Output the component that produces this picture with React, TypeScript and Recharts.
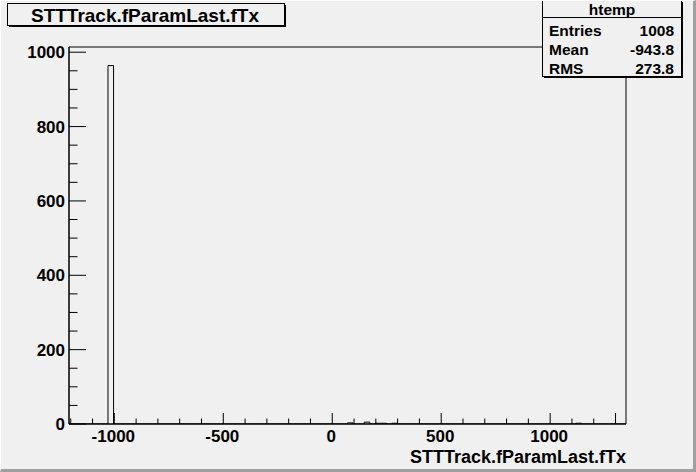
import React from "react";
import { ComposedChart, Line, XAxis, YAxis, ReferenceArea } from "recharts";

// Histogram definition (100 bins)
const xMin = -1208;
const xMax = 1348;
const nBins = 100;
const binCounts: number[] = [
  0, 0, 0, 0, 0, 0, 0, 964, 0, 0,
  0, 0, 0, 0, 0, 0, 0, 0, 0, 0,
  0, 0, 0, 0, 0, 0, 0, 0, 0, 0,
  0, 0, 0, 0, 0, 0, 0, 0, 0, 0,
  0, 0, 0, 0, 0, 0, 0, 0, 0, 0,
  3, 0, 0, 5, 0, 2, 2, 0, 2, 0,
  0, 0, 0, 0, 0, 0, 0, 0, 0, 0,
  0, 0, 0, 0, 0, 0, 0, 0, 0, 0,
  0, 0, 0, 0, 0, 0, 0, 0, 0, 0,
  0, 2, 0, 0, 0, 0, 0, 0, 0, 0,
];
const xTicks = [-1200, -1100, -1000, -900, -800, -700, -600, -500, -400, -300, -200, -100, 0, 100, 200, 300, 400, 500, 600, 700, 800, 900, 1000, 1100, 1200, 1300];
const xLabeled = [-1000, -500, 0, 500, 1000];
const xTallTicks = [-1000, -500, 0, 500, 1000, 1300];
const yTicks = [0, 50, 100, 150, 200, 250, 300, 350, 400, 450, 500, 550, 600, 650, 700, 750, 800, 850, 900, 950, 1000];
const yLabeled = [0, 200, 400, 600, 800, 1000];
const yMax = 1014;

const titleText = "STTTrack.fParamLast.fTx";
const statsName = "htemp";
const statsLabels = ["Entries", "Mean", "RMS"];
const statsValues = ["1008", "-943.8", "273.8"];

const binWidth = (xMax - xMin) / nBins;
const histData = binCounts.map((c, i) => ({ x: xMin + i * binWidth, count: c }));
histData.push({ x: xMax, count: binCounts[nBins - 1] });

const FONT = "'Liberation Sans', Arial, Helvetica, sans-serif";
const BG = "#f0f0f0";

const XTick = (props: any) => {
  const { x, y, payload } = props;
  const v = payload.value;
  const tall = xTallTicks.includes(v);
  const len = tall ? 11 : 5.5;
  return (
    <g>
      <line x1={x} x2={x} y1={y} y2={y - len} stroke="#000" strokeWidth={1} />
      {xLabeled.includes(v) && (
        <text x={x - 1} y={y + 18} textAnchor="middle" fontFamily={FONT} fontWeight="bold" fontSize={17} fill="#000">
          {v}
        </text>
      )}
    </g>
  );
};

const YTick = (props: any) => {
  const { x, y, payload } = props;
  const v = payload.value;
  const major = v % 200 === 0;
  const len = major ? 17 : 8.5;
  return (
    <g>
      <line x1={x} x2={x + len} y1={y} y2={y} stroke="#000" strokeWidth={1} />
      {yLabeled.includes(v) && (
        <text x={x - 4} y={y} dy="0.36em" textAnchor="end" fontFamily={FONT} fontWeight="bold" fontSize={17} fill="#000">
          {v}
        </text>
      )}
    </g>
  );
};

export default function App() {
  return (
    <div
      style={{
        position: "fixed",
        left: 0,
        top: 0,
        width: 696,
        height: 472,
        background: BG,
        boxSizing: "border-box",
        borderTop: "1px solid #ffffff",
        borderLeft: "1px solid #ffffff",
        borderRight: "3px solid #a0a0a0",
        borderBottom: "3px solid #a0a0a0",
        overflow: "hidden",
      }}
    >
      <div style={{ position: "absolute", left: -1, top: -1 }}>
        <ComposedChart
          width={696}
          height={472}
          data={histData}
          margin={{ top: 47, right: 70, bottom: 18, left: 0 }}
        >
          <XAxis
            dataKey="x"
            type="number"
            domain={[xMin, xMax]}
            ticks={xTicks}
            interval={0}
            tickSize={0}
            tickMargin={0}
            tickLine={false}
            axisLine={{ stroke: "#000", strokeWidth: 1 }}
            tick={<XTick />}
            height={30}
            allowDataOverflow
          />
          <YAxis
            type="number"
            domain={[0, yMax]}
            ticks={yTicks}
            interval={0}
            tickSize={0}
            tickMargin={0}
            tickLine={false}
            axisLine={{ stroke: "#000", strokeWidth: 1 }}
            tick={<YTick />}
            width={69}
            allowDataOverflow
          />
          <ReferenceArea
            x1={xMin}
            x2={xMax}
            y1={0}
            y2={yMax}
            fill="none"
            fillOpacity={0}
            stroke="#000"
            strokeWidth={1}
            ifOverflow="visible"
          />
          <Line
            type="stepAfter"
            dataKey="count"
            stroke="#000"
            strokeWidth={1}
            dot={false}
            activeDot={false}
            isAnimationActive={false}
          />
        </ComposedChart>
      </div>
      <svg
        width={696}
        height={472}
        style={{ position: "absolute", left: -1, top: -1, pointerEvents: "none" }}
      >
        {/* title box */}
        <rect x={9} y={5} width={277} height={22} fill="#000" />
        <rect x={7.5} y={3.5} width={277} height={22} fill={BG} stroke="#000" strokeWidth={1} />
        <text x={145} y={22} textAnchor="middle" fontFamily={FONT} fontWeight="bold" fontSize={19} fill="#000">
          {titleText}
        </text>
        {/* stats box */}
        <rect x={544} y={2} width={139} height={76} fill="#000" />
        <rect x={542.5} y={0.5} width={139} height={76} fill={BG} stroke="#000" strokeWidth={1} />
        <line x1={542.5} x2={681.5} y1={17.5} y2={17.5} stroke="#000" strokeWidth={1} />
        <text x={612} y={15} textAnchor="middle" fontFamily={FONT} fontWeight="bold" fontSize={15.5} fill="#000">
          {statsName}
        </text>
        {statsLabels.map((l, i) => (
          <g key={l}>
            <text x={549} y={36 + i * 19} fontFamily={FONT} fontWeight="bold" fontSize={15.5} fill="#000">
              {l}
            </text>
            <text x={674} y={36 + i * 19} textAnchor="end" fontFamily={FONT} fontWeight="bold" fontSize={15.5} fill="#000">
              {statsValues[i]}
            </text>
          </g>
        ))}
        {/* x axis title */}
        <text x={626} y={463} textAnchor="end" fontFamily={FONT} fontWeight="bold" fontSize={18} fill="#000">
          {titleText}
        </text>
      </svg>
    </div>
  );
}
